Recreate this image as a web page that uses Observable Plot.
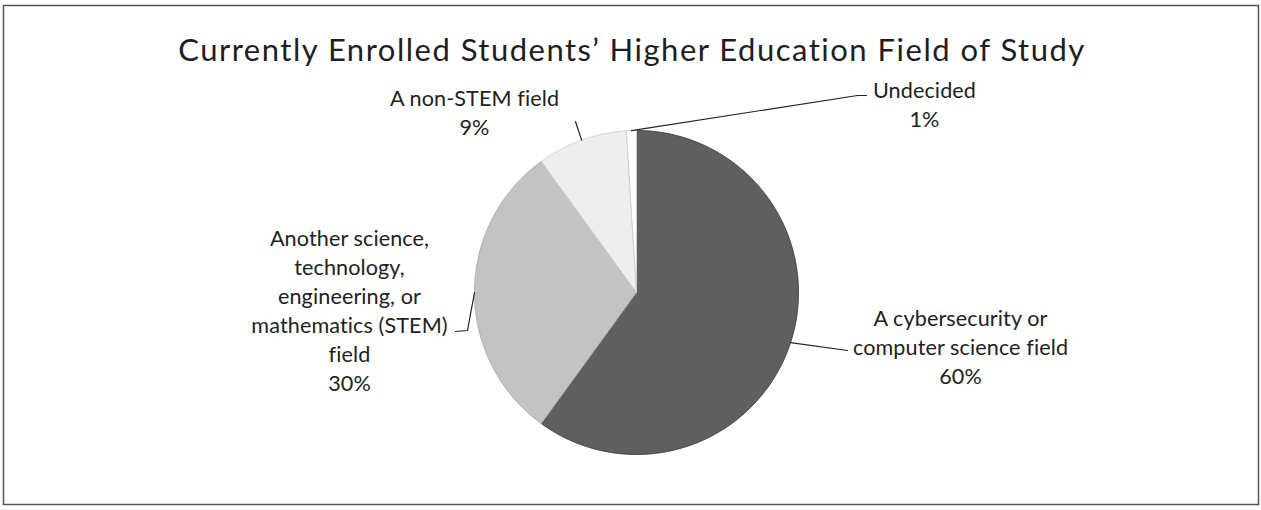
<!DOCTYPE html>
<html><head><meta charset="utf-8">
<script src="https://cdn.jsdelivr.net/npm/d3@7"></script>
<script src="https://cdn.jsdelivr.net/npm/@observablehq/plot@0.6"></script>
<style>body{margin:0;background:#fff;} .ttl text{letter-spacing:1.5px;} .lbl text{letter-spacing:0.1px;}</style>
</head><body><div id="chart"></div>
<script>
// ---- data ----
const chartTitle = "Currently Enrolled Students’ Higher Education Field of Study";
const categories = [
  "A cybersecurity or computer science field",
  "Another science, technology, engineering, or mathematics (STEM) field",
  "A non-STEM field",
  "Undecided"
];
const shares = [60, 30, 9, 1];
const labelLines = [
  ["A cybersecurity or", "computer science field"],
  ["Another science,", "technology,", "engineering, or", "mathematics (STEM)", "field"],
  ["A non-STEM field"],
  ["Undecided"]
];
const percentLabels = ["60%", "30%", "9%", "1%"];

// ---- layout & style ----
const W = 1261, H = 510;
const pieCenter = [636, 292], pieRadius = 162;
const sliceFill = ["#5f5f5f", "#c3c3c3", "#eeeeee", "#ffffff"];
const sliceStroke = ["#3a3a3a", "#a8a8a8", "#d0d0d0", "#cfcfcf"];
const labelAnchor = [[960, 345], [349, 309], [474, 111], [924, 103]];
const leaderBends = [[[847, 350]], [[467, 330], [455, 331]], [[575, 121]], [[857, 95], [866, 95]]];
const labelFont = 21.6, labelLineHeight = 29;
const font = "Lato, 'Open Sans', sans-serif";

const arcs = d3.pie().sort(null).value(d => d)(shares);
const polar = (a, r) => [pieCenter[0] + r * Math.sin(a), pieCenter[1] - r * Math.cos(a)];

const sliceMarks = arcs.map((a, i) => {
  const n = Math.max(4, Math.ceil((a.endAngle - a.startAngle) / 0.004));
  const pts = [pieCenter];
  for (let k = 0; k <= n; k++) pts.push(polar(a.startAngle + (a.endAngle - a.startAngle) * k / n, pieRadius));
  pts.push(pieCenter);
  return Plot.line(pts, {x: d => d[0], y: d => d[1], fill: sliceFill[i], stroke: sliceStroke[i], strokeWidth: 1, curve: "linear"});
});

const leaderData = arcs.flatMap((a, i) => {
  const mid = (a.startAngle + a.endAngle) / 2;
  return [polar(mid, pieRadius), ...leaderBends[i]].map(p => ({i, x: p[0], y: p[1]}));
});

const labels = categories.map((c, i) => ({
  text: [...labelLines[i], percentLabels[i]].join("\n"),
  x: labelAnchor[i][0], y: labelAnchor[i][1]
}));

const chart = Plot.plot({
  width: W, height: H, margin: 0,
  x: {domain: [0, W], range: [0, W], axis: null},
  y: {domain: [0, H], range: [0, H], axis: null},
  style: {fontFamily: font, background: "#fff", color: "#222"},
  marks: [
    Plot.frame({stroke: "#555", strokeWidth: 1.5, insetTop: 5, insetLeft: 3, insetRight: 3, insetBottom: 6}),
    Plot.text([chartTitle], {frameAnchor: "top", lineAnchor: "top", dy: 38, dx: 1, fontSize: 31, fill: "#1e1e1e", fontFamily: font, className: "ttl"}),
    ...sliceMarks,
    Plot.line(leaderData, {x: "x", y: "y", z: "i", stroke: "#222", strokeWidth: 1.2}),
    Plot.text(labels, {x: "x", y: "y", text: "text", textAnchor: "middle", lineAnchor: "middle",
      fontSize: labelFont, lineHeight: labelLineHeight / labelFont, fill: "#222", fontFamily: font, className: "lbl"})
  ]
});
document.getElementById("chart").append(chart);
</script>
</body></html>
